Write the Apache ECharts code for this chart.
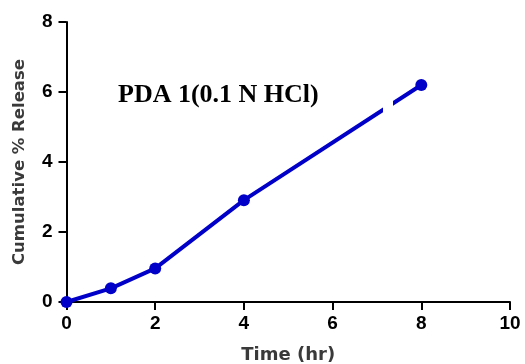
<!DOCTYPE html>
<html>
<head>
<meta charset="utf-8">
<script src="https://cdn.jsdelivr.net/npm/echarts@6/dist/echarts.min.js"></script>
<style>
  html, body { margin: 0; padding: 0; background: #fff; }
  #chart { width: 525px; height: 364px; }
</style>
</head>
<body>
<div id="chart"></div>
<script>
const timeHr = [0, 1, 2, 4, 8];
const releasePct = [0, 0.39, 0.96, 2.91, 6.2];
const chartTitle = "PDA 1(0.1 N HCl)";

const chart = echarts.init(document.getElementById("chart"), null, { renderer: "canvas" });
const axisCommon = {
  axisLine: { onZero: false, lineStyle: { color: "#000", width: 2 } },
  axisTick: { show: true, length: 8, lineStyle: { color: "#000", width: 2 } },
  axisLabel: { color: "#000", fontFamily: "Liberation Sans, Arial, sans-serif", fontWeight: "bold", fontSize: 19 },
  splitLine: { show: false },
  nameTextStyle: { color: "#3a3a3a", fontFamily: "DejaVu Sans, sans-serif", fontWeight: "bold", fontSize: 18 },
};
chart.setOption({
  animation: false,
  backgroundColor: "#fff",
  grid: { left: 66.5, right: 15, top: 22, bottom: 62, containLabel: false, outerBoundsMode: "none" },
  xAxis: {
    ...axisCommon,
    type: "value",
    min: 0, max: 10, interval: 2,
    name: "Time (hr)",
    nameLocation: "middle",
    nameGap: 44,
    axisLabel: { ...axisCommon.axisLabel, margin: 12 },
  },
  yAxis: {
    ...axisCommon,
    type: "value",
    min: 0, max: 8, interval: 2,
    name: "Cumulative % Release",
    nameLocation: "middle",
    nameGap: 38,
    nameTextStyle: { ...axisCommon.nameTextStyle, fontSize: 16.5 },
    axisLabel: { ...axisCommon.axisLabel, margin: 14 },
  },
  series: [{
    type: "line",
    data: timeHr.map((t, i) => [t, releasePct[i]]),
    symbol: "circle",
    symbolSize: 12,
    showSymbol: true,
    lineStyle: { color: "#0000c8", width: 4 },
    itemStyle: { color: "#0000c8" },
    z: 2,
  }],
  graphic: [
    { type: "rect", shape: { x: 383, y: 100, width: 10, height: 15 }, style: { fill: "#fff" }, z: 100 },
    {
      type: "text", left: 118, top: 82, z: 101,
      style: { text: chartTitle, fill: "#000", font: "bold 26px 'Liberation Serif', 'Times New Roman', serif" },
    },
  ],
});
</script>
</body>
</html>
